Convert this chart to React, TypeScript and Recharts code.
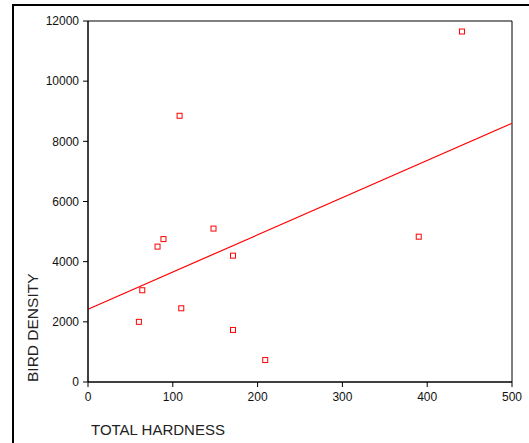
import React from "react";
import {
  ScatterChart,
  Scatter,
  XAxis,
  YAxis,
  ReferenceLine,
  ReferenceArea,
} from "recharts";

const hardness = [441, 108, 148, 89, 82, 171, 64, 110, 60, 171, 209, 390];
const density = [11650, 8850, 5100, 4750, 4500, 4200, 3050, 2450, 2000, 1730, 730, 4830];
const fitLine = [
  { x: 0, y: 2420 },
  { x: 500, y: 8600 },
];
const xTicks = [0, 100, 200, 300, 400, 500];
const yTicks = [0, 2000, 4000, 6000, 8000, 10000, 12000];

const points = hardness.map((h, i) => ({ x: h, y: density[i] }));

const font = "'Liberation Sans', Arial, sans-serif";

function SquareMark(props: any) {
  const { cx, cy } = props;
  return (
    <rect x={cx - 2.5} y={cy - 2.5} width={5} height={5} fill="#fff" stroke="#ff0000" strokeWidth={1} />
  );
}

export default function App() {
  return (
    <div style={{ position: "absolute", left: 0, top: 0, width: 529, height: 443, background: "#fff" }}>
      <ScatterChart
        width={529}
        height={443}
        margin={{ top: 21, right: 17, bottom: 0, left: 0 }}
        style={{ fontFamily: font }}
      >
        {/* outer frame */}
        <line x1={13} y1={5} x2={529} y2={5} stroke="#000" strokeWidth={2} />
        <line x1={13} y1={4} x2={13} y2={443} stroke="#000" strokeWidth={2} />
        <XAxis
          type="number"
          dataKey="x"
          domain={[0, 500]}
          ticks={xTicks}
          height={61}
          tickSize={5}
          tickMargin={5}
          stroke="#000"
          tick={{ fill: "#111", fontSize: 12, fontFamily: font }}
        />
        <YAxis
          type="number"
          dataKey="y"
          domain={[0, 12000]}
          ticks={yTicks}
          width={88}
          tickSize={5}
          tickMargin={4}
          stroke="#000"
          tick={{ fill: "#111", fontSize: 12, fontFamily: font }}
        />
        <ReferenceArea x1={0} x2={500} y1={0} y2={12000} fill="none" stroke="#000" strokeWidth={1} ifOverflow="visible" />
        <ReferenceLine segment={fitLine} stroke="#ff0000" strokeWidth={1.2} ifOverflow="visible" />
        <Scatter data={points} shape={<SquareMark />} isAnimationActive={false} />
        <text x={91} y={435} fontSize={15} fill="#222" fontFamily={font}>
          TOTAL HARDNESS
        </text>
        <text x={38} y={382} fontSize={15.5} fill="#222" fontFamily={font} transform="rotate(-90 38 382)">
          BIRD DENSITY
        </text>
      </ScatterChart>
    </div>
  );
}
